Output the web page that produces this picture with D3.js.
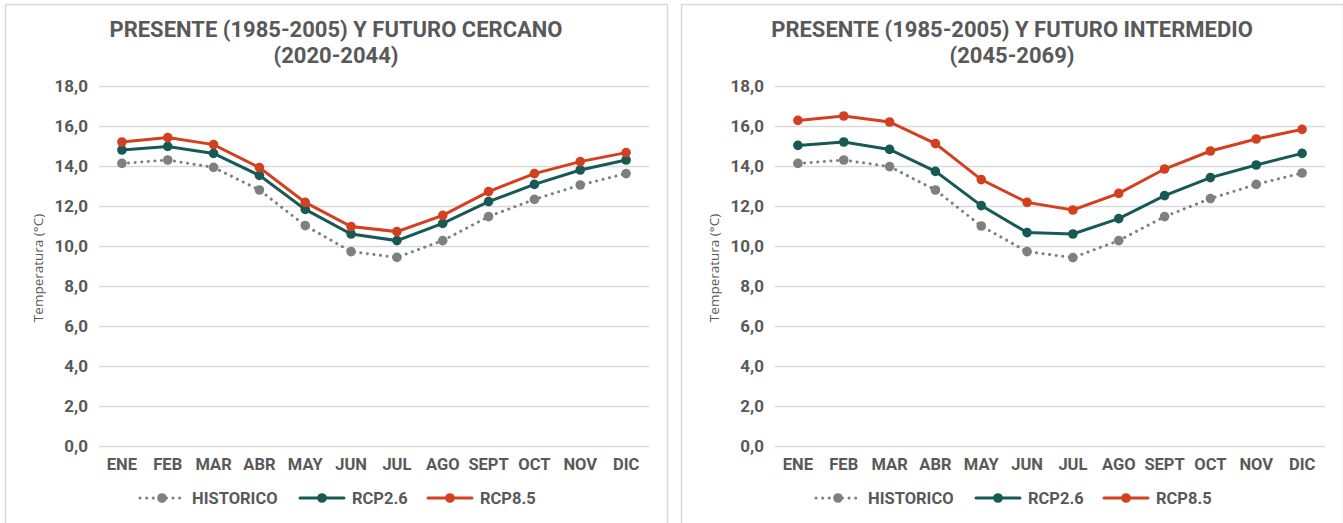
<!DOCTYPE html>
<html>
<head>
<meta charset="utf-8">
<script src="https://cdn.jsdelivr.net/npm/d3@7"></script>
<style>
  body { margin: 0; background: #fff; }
  svg { display: block; font-family: Roboto, "Liberation Sans", sans-serif; }
</style>
</head>
<body>
<div id="chart"></div>
<script>
// month labels on the x axis
const months = ['ENE', 'FEB', 'MAR', 'ABR', 'MAY', 'JUN', 'JUL', 'AGO', 'SEPT', 'OCT', 'NOV', 'DIC'];
const yTicks = [0, 2, 4, 6, 8, 10, 12, 14, 16, 18];

// near future chart (2020-2044)
const historicoA = [14.13, 14.3, 13.93, 12.8, 11.02, 9.72, 9.43, 10.27, 11.47, 12.33, 13.05, 13.62];
const rcp26A = [14.8, 14.98, 14.63, 13.53, 11.83, 10.6, 10.27, 11.13, 12.22, 13.08, 13.8, 14.3];
const rcp85A = [15.2, 15.42, 15.07, 13.92, 12.18, 10.97, 10.72, 11.53, 12.72, 13.62, 14.22, 14.67];

// intermediate future chart (2045-2069)
const historicoB = [14.13, 14.3, 13.97, 12.8, 11.0, 9.72, 9.42, 10.27, 11.47, 12.37, 13.08, 13.65];
const rcp26B = [15.03, 15.2, 14.83, 13.73, 12.02, 10.67, 10.6, 11.37, 12.52, 13.42, 14.05, 14.63];
const rcp85B = [16.28, 16.5, 16.2, 15.12, 13.32, 12.18, 11.8, 12.63, 13.85, 14.75, 15.35, 15.83];

const seriesNames = ['HISTORICO', 'RCP2.6', 'RCP8.5'];

const W = 1343, H = 523;
const PANEL_W = 662;
const MARGIN = { TOP: 86, BOTTOM: 77, LEFT: 94, RIGHT: 18 };
const TEXT = '#595959';
const COLORS = { 'HISTORICO': '#7f7f7f', 'RCP2.6': '#175a55', 'RCP8.5': '#d4401f' };

const svg = d3.select('#chart').append('svg')
  .attr('width', W)
  .attr('height', H);

function drawPanel(x0, titleLines, values) {
  const g = svg.append('g').attr('transform', `translate(${x0}, 0)`);

  g.append('rect')
    .attr('x', 0.5).attr('y', 4.5)
    .attr('width', PANEL_W).attr('height', H + 10)
    .attr('fill', 'none')
    .attr('stroke', '#d9d9d9')
    .attr('stroke-width', 1.5);

  titleLines.forEach((t, i) => {
    g.append('text')
      .attr('x', PANEL_W / 2)
      .attr('y', 37 + i * 26)
      .attr('text-anchor', 'middle')
      .attr('font-size', 22)
      .attr('font-weight', 'bold')
      .attr('fill', TEXT)
      .text(t);
  });

  const plotW = PANEL_W - MARGIN.LEFT - MARGIN.RIGHT;
  const plot = g.append('g').attr('transform', `translate(${MARGIN.LEFT}, 0)`);

  const x = d3.scaleBand().domain(months).range([0, plotW]);
  const y = d3.scaleLinear().domain([0, 18]).range([446, 86]);

  // gridlines + y labels
  const yAxis = d3.axisLeft(y).tickValues(yTicks).tickSize(-plotW).tickPadding(11)
    .tickFormat(d => d3.format('.1f')(d).replace('.', ','));
  plot.append('g').call(yAxis)
    .call(s => s.select('.domain').remove())
    .call(s => s.selectAll('line').attr('stroke', '#d9d9d9').attr('stroke-width', 1.5))
    .call(s => s.selectAll('text').attr('font-size', 17).attr('font-weight', 'bold')
      .attr('fill', TEXT).attr('font-family', 'Roboto, sans-serif'));

  const xAxis = d3.axisBottom(x).tickSize(0).tickPadding(12);
  plot.append('g').attr('transform', 'translate(0, 446)').call(xAxis)
    .call(s => s.select('.domain').remove())
    .call(s => s.selectAll('text').attr('font-size', 16.5).attr('font-weight', 'bold')
      .attr('fill', TEXT).attr('font-family', 'Roboto, sans-serif'));

  g.append('text')
    .attr('transform', `translate(38, 268) rotate(-90)`)
    .attr('text-anchor', 'middle')
    .attr('font-family', '"Open Sans", sans-serif')
    .attr('font-size', 13.5)
    .attr('fill', TEXT)
    .text('Temperatura (°C)');

  const line = d3.line()
    .x((d, i) => x(months[i]) + x.bandwidth() / 2)
    .y(d => y(d));

  seriesNames.forEach((name, k) => {
    const data = values[k];
    const dotted = name === 'HISTORICO';
    plot.append('path')
      .datum(data)
      .attr('d', line)
      .attr('fill', 'none')
      .attr('stroke', COLORS[name])
      .attr('stroke-width', 3)
      .attr('stroke-linecap', 'round')
      .attr('stroke-dasharray', dotted ? '0.1 6.5' : null);
    plot.selectAll(null)
      .data(data)
      .enter().append('circle')
      .attr('cx', (d, i) => x(months[i]) + x.bandwidth() / 2)
      .attr('cy', d => y(d))
      .attr('r', 4.8)
      .attr('fill', COLORS[name]);
  });

  // legend
  const legendX = [135, 295, 423];
  seriesNames.forEach((name, k) => {
    const lg = g.append('g').attr('transform', `translate(${legendX[k]}, 498)`);
    const dotted = name === 'HISTORICO';
    lg.append('line')
      .attr('x1', 0).attr('x2', 44)
      .attr('stroke', COLORS[name])
      .attr('stroke-width', 3)
      .attr('stroke-linecap', 'round')
      .attr('stroke-dasharray', dotted ? '0.1 6.5' : null);
    lg.append('circle').attr('cx', 22).attr('r', 4.8).attr('fill', COLORS[name]);
    lg.append('text')
      .attr('x', 52).attr('y', 6)
      .attr('font-size', 16.5)
      .attr('font-weight', 'bold')
      .attr('fill', TEXT)
      .text(name);
  });
}

drawPanel(5, ['PRESENTE (1985-2005) Y FUTURO CERCANO', '(2020-2044)'], [historicoA, rcp26A, rcp85A]);
drawPanel(681, ['PRESENTE (1985-2005) Y FUTURO INTERMEDIO', '(2045-2069)'], [historicoB, rcp26B, rcp85B]);
</script>
</body>
</html>
